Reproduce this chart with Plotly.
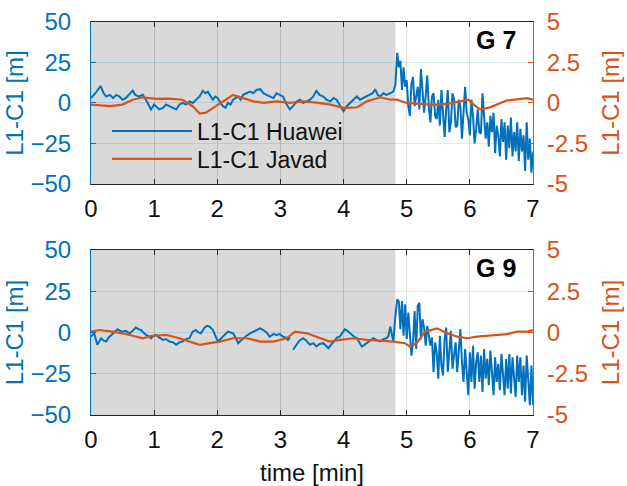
import plotly.graph_objects as go

BLUE = "#0072BD"
ORANGE = "#D95319"
DARK = "#262626"
FONT = "Liberation Sans, Arial, sans-serif"

# ---------------- data ----------------
# G 7 : Huawei (left axis, m)
t_hw_g7 = [0.00, 0.07, 0.15, 0.20, 0.24, 0.30, 0.35, 0.40, 0.45, 0.50, 0.55, 0.60, 0.66, 0.70, 0.76, 0.82, 0.87,
           0.95, 1.00, 1.03, 1.08, 1.14, 1.19, 1.24, 1.30, 1.35, 1.40, 1.45, 1.50, 1.56, 1.61, 1.66, 1.72, 1.77,
           1.81, 1.85, 1.90, 1.93, 1.97, 2.01, 2.05, 2.09, 2.13, 2.17, 2.21, 2.25, 2.29, 2.33, 2.37, 2.41, 2.46,
           2.52, 2.57, 2.62, 2.68, 2.73, 2.78, 2.83, 2.89, 2.94, 2.99, 3.04, 3.10, 3.15, 3.20, 3.26, 3.31, 3.36,
           3.41, 3.47, 3.52, 3.57, 3.62, 3.68, 3.73, 3.79, 3.84, 3.89, 3.95, 4.00, 4.05, 4.10, 4.16, 4.21, 4.26,
           4.31, 4.37, 4.42, 4.46, 4.50, 4.54, 4.58, 4.63, 4.68, 4.74, 4.79, 4.82,
           4.850, 4.875, 4.900, 4.925, 4.950, 4.975, 5.000, 5.025, 5.050, 5.075, 5.100, 5.125, 5.150, 5.175,
           5.200, 5.225, 5.250, 5.275, 5.300, 5.325, 5.350, 5.375, 5.400, 5.425, 5.450, 5.475, 5.500, 5.525,
           5.550, 5.575, 5.600, 5.625, 5.650, 5.675, 5.700, 5.725, 5.750, 5.775, 5.800, 5.825, 5.850, 5.875,
           5.900, 5.925, 5.950, 5.975, 6.000, 6.025, 6.050, 6.075, 6.100, 6.125, 6.150, 6.175, 6.200, 6.225,
           6.250, 6.275, 6.300, 6.325, 6.350, 6.375, 6.400, 6.425, 6.450, 6.475, 6.500, 6.525, 6.550, 6.575,
           6.600, 6.625, 6.650, 6.675, 6.700, 6.725, 6.750, 6.775, 6.800, 6.825, 6.850, 6.875, 6.900, 6.925,
           6.950, 6.975, 7.000]
hw_g7 = [3, 6, 10.5, 6, 4, 5, 3, 5, 4, 2, 3, 5, 7.6, 5, 4, 5, 2,
         -4, -1, -2, -4, -3, -1, -2, -3, -4, -1, 0, -1, 1, 0, 2, 4, 7.5,
         6, 7, 4, 2, 4, 3, 0, -2, -3, 0, -1, 2, 3, 4, 2, 5, 6,
         7, 6, 8, 8.5, 6, 5, 4, 3, 6, 5, 4, -1, -4, -2, 1, 2, 0,
         1, 2, 4, 7.5, 5, 4, 2, 1, 3, 2, -2, -5, -2, 0, 2, 4, 2,
         3, 4, 5, 6, 8.5, 5, 4, 6, 5, 6, 7, 11,
         31, 22, 26, 8, 22, 10, 14, -2, -8, 12, 16, -2, 4, 10,
         -4, 21, 8, -6, 4, 17, -2, -12, 4, 6, -8, -10, 2, -14,
         8, -6, -21, -4, 8, -18, -12, 6, 2, -15, -14, 2, -2, -22,
         -8, 10, -6, -10, -20, 2, -8, -25, -16, -4, -18, -19, 6, -10,
         -22, -12, -27, -8, -18, -6, -31, -14, -20, -33, -10, -24, -12, -35,
         -14, -28, -9, -33, -18, -30, -12, -36, -16, -30, -20, -42, -12, -35,
         -22, -43, -30]

# G 7 : Javad (right axis, m)
t_jv_g7 = [0.00, 0.15, 0.30, 0.50, 0.66, 0.82, 1.03, 1.24, 1.45, 1.61, 1.72, 1.82, 1.98, 2.09, 2.25, 2.41,
           2.57, 2.73, 2.94, 3.15, 3.36, 3.57, 3.79, 4.00, 4.21, 4.37, 4.58, 4.74, 4.84, 5.00, 5.21, 5.43,
           5.64, 5.85, 5.98, 6.06, 6.16, 6.32, 6.48, 6.58, 6.74, 6.90, 7.00]
jv_g7 = [-0.1, -0.15, -0.2, -0.1, 0.2, 0.35, 0.25, 0.27, 0.2, -0.2, -0.65, -0.6, -0.2, 0.1, 0.5, 0.3,
         0.1, 0.0, 0.1, 0.0, 0.1, 0.02, -0.1, -0.3, -0.27, 0.1, 0.35, 0.2, 0.2, 0.0, -0.06, -0.12,
         -0.06, 0.08, 0.2, -0.1, -0.4, -0.27, 0.0, 0.15, 0.22, 0.3, 0.2]

# G 9 : Huawei (left axis, m); None = data gap
t_hw_g9 = [0.00, 0.05, 0.10, 0.16, 0.20, 0.24, 0.28, 0.32, 0.37, 0.42, 0.46, 0.50, 0.55, 0.61, 0.66, 0.71,
           0.75, 0.79, 0.83, 0.87, 0.91, 0.95, 0.99, 1.03, 1.08, 1.14, 1.19, 1.24, 1.30, 1.35, 1.40, 1.45,
           1.50, 1.56, 1.61, 1.66, 1.70, 1.74, 1.80, 1.84, 1.88, 1.93, 1.97, 2.01, 2.05, 2.09, 2.13, 2.17,
           2.21, 2.25, 2.29, 2.33, 2.37, 2.41, 2.46, 2.52, 2.57, 2.62, 2.68, 2.73, 2.78, 2.83, 2.89, 2.94,
           2.99, 3.04, 3.08, 3.12, 3.15, 3.17, 3.20, 3.25, 3.30, 3.36, 3.41, 3.47, 3.52, 3.57, 3.62, 3.68,
           3.72, 3.76, 3.81, 3.86, 3.90, 3.94, 3.98, 4.02, 4.06, 4.10, 4.15, 4.21, 4.25, 4.29, 4.33, 4.37,
           4.42, 4.47, 4.52, 4.58, 4.63, 4.68, 4.71, 4.74, 4.77, 4.79, 4.82,
           4.850, 4.875, 4.900, 4.925, 4.950, 4.975, 5.000, 5.025, 5.050, 5.075, 5.100, 5.125, 5.150, 5.175,
           5.200, 5.225, 5.250, 5.275, 5.300, 5.325, 5.350, 5.375, 5.400, 5.425, 5.450, 5.475, 5.500, 5.525,
           5.550, 5.575, 5.600, 5.625, 5.650, 5.675, 5.700, 5.725, 5.750, 5.775, 5.800, 5.825, 5.850, 5.875,
           5.900, 5.925, 5.950, 5.975, 6.000, 6.025, 6.050, 6.075, 6.100, 6.125, 6.150, 6.175, 6.200, 6.225,
           6.250, 6.275, 6.300, 6.325, 6.350, 6.375, 6.400, 6.425, 6.450, 6.475, 6.500, 6.525, 6.550, 6.575,
           6.600, 6.625, 6.650, 6.675, 6.700, 6.725, 6.750, 6.775, 6.800, 6.825, 6.850, 6.875, 6.900, 6.925,
           6.950, 6.975, 7.000]
hw_g9 = [-2.5, -0.5, -7.5, -3.5, -5, -5.5, -3, -1.5, 0, 2, 1, 0.5, 1, -0.5, 1, 3,
         2, 1.5, 0, -1.5, -2, -3.5, -2, -1.5, -3, -4.5, -4, -5.5, -6, -7.5, -6, -5.5,
         -4, -3.5, 0.5, 1.5, 0, -0.5, 3, 4, 3.5, 1.5, -2, -5.5, -4, -2.5, -1, 0.5,
         0, -0.5, -3, -6.5, -5, -3.5, -2, -0.5, 0.5, 1.5, 2.5, 1.5, 0, -2.5, -1, -1.5,
         -1, -2.5, -3, -4.5, -3, None, -10.5, -7.5, -5, -3.5, -5, -7.5, -6.5, -8.5, -7, -6.5,
         -8, -9.5, -7, -4.5, -3, -2.5, 0, 2, 1, -0.5, -2, -3.5, -6, -8.5, -7.5, -6.5,
         -5, -3.5, -4.5, -5.5, -4, -3.5, -2, 3.5, -2, -5.5, 10,
         20, 19, 2, 19, -2, 17, -4, 12, 0, -14, -6, 13, -10, 16,
         18, -4, 8, 3, -8, 4, -2, -8, -3, -24, -6, -12, -28, -2,
         -20, -26, -4, 3, -24, -8, 1, -22, -12, -6, -24, -10, 2, -18,
         -30, -10, -22, -38, -12, -30, -8, -34, -18, -12, -30, -14, -36, -10,
         -28, -16, -32, -11, -24, -38, -15, -30, -19, -35, -13, -26, -38, -16,
         -34, -13, -37, -15, -30, -39, -14, -30, -15, -38, -20, -42, -14, -30,
         -44, -20, -44]

# G 9 : Javad (right axis, m)
t_jv_g9 = [0.00, 0.13, 0.34, 0.50, 0.66, 0.82, 0.97, 1.19, 1.40, 1.56, 1.72, 1.88, 2.04, 2.25, 2.47, 2.68,
           2.89, 3.10, 3.23, 3.42, 3.63, 3.78, 3.94, 4.15, 4.37, 4.58, 4.79, 4.97, 5.05, 5.16, 5.29, 5.48,
           5.64, 5.80, 5.96, 6.11, 6.27, 6.43, 6.59, 6.75, 6.91, 7.00]
jv_g9 = [0.05, 0.15, 0.05, -0.05, -0.2, -0.35, -0.2, -0.15, -0.35, -0.55, -0.75, -0.65, -0.55, -0.35, -0.35, -0.55,
         -0.55, -0.35, 0.05, -0.05, -0.35, -0.55, -0.45, -0.35, -0.45, -0.5, -0.55, -0.65, -0.85, -0.65, 0.05, 0.25,
         -0.05, -0.25, -0.35, -0.25, -0.2, -0.15, -0.1, 0.05, 0.05, 0.15]

shade_end = 4.82          # end of shaded interval [min]
x_ticks = [0, 1, 2, 3, 4, 5, 6, 7]
left_ticks = [-50, -25, 0, 25, 50]
right_ticks = [-5, -2.5, 0, 2.5, 5]
right_ticktext = ["-5", "-2.5", "0", "2.5", "5"]
panel_labels = ["G 7", "G 9"]
series_names = ["L1-C1 Huawei", "L1-C1 Javad"]

assert len(t_hw_g7) == len(hw_g7)
assert len(t_hw_g9) == len(hw_g9)
assert len(t_jv_g7) == len(jv_g7)
assert len(t_jv_g9) == len(jv_g9)

# ---------------- figure ----------------
fig = go.Figure()
fig.add_trace(go.Scatter(x=t_hw_g7, y=hw_g7, xaxis="x", yaxis="y", mode="lines",
                         line=dict(color=BLUE, width=2), name=series_names[0], connectgaps=False,
                         legend="legend"))
fig.add_trace(go.Scatter(x=t_jv_g7, y=jv_g7, xaxis="x", yaxis="y2", mode="lines",
                         line=dict(color=ORANGE, width=2.2), name=series_names[1], legend="legend2"))
fig.add_trace(go.Scatter(x=t_hw_g9, y=hw_g9, xaxis="x2", yaxis="y3", mode="lines",
                         line=dict(color=BLUE, width=2), showlegend=False, connectgaps=False))
fig.add_trace(go.Scatter(x=t_jv_g9, y=jv_g9, xaxis="x2", yaxis="y4", mode="lines",
                         line=dict(color=ORANGE, width=2.2), showlegend=False))

TS = 24
tickfont = dict(family=FONT, size=TS)

def xaxis(anchor, title=None):
    d = dict(anchor=anchor, domain=[0, 1], range=[0, 7], tickvals=x_ticks, automargin=False,
             ticks="inside", ticklen=5, tickcolor=DARK, showline=True, linecolor=DARK, linewidth=1,
             mirror="ticks", showgrid=True, gridcolor="rgba(0,0,0,0.13)", gridwidth=1, zeroline=False,
             tickfont=dict(tickfont, color="#111111"), ticklabelstandoff=3)
    if title:
        d["title"] = dict(text=title, font=dict(family=FONT, size=TS, color="#111111"), standoff=13)
    return d

def yleft(anchor, domain):
    return dict(anchor=anchor, domain=domain, range=[-50, 50], tickvals=left_ticks, automargin=False,
                ticks="inside", ticklen=5, tickcolor=BLUE, showline=True, linecolor=BLUE, linewidth=1,
                showgrid=True, gridcolor="rgba(0,114,189,0.14)", zeroline=False,
                tickfont=dict(tickfont, color=BLUE), ticklabelstandoff=14,
                title=dict(text="L1-C1 [m]", font=dict(family=FONT, size=TS, color=BLUE), standoff=0))

def yright(anchor, over):
    return dict(anchor=anchor, overlaying=over, side="right", range=[-5, 5], tickvals=right_ticks,
                ticktext=right_ticktext, ticks="inside", ticklen=5, tickcolor=ORANGE, showline=True,
                linecolor=ORANGE, linewidth=1, showgrid=False, zeroline=False, automargin=False,
                tickfont=dict(tickfont, color=ORANGE), ticklabelstandoff=8,
                title=dict(text="L1-C1 [m]", font=dict(family=FONT, size=TS, color=ORANGE), standoff=15))

legend_common = dict(x=0.036, xanchor="left", yanchor="middle", bgcolor="rgba(0,0,0,0)",
                     borderwidth=0, font=dict(family=FONT, size=23, color="#111111"), itemwidth=80)

fig.update_layout(
    width=627, height=486,
    margin=dict(l=91, r=94, t=22, b=71),
    paper_bgcolor="white", plot_bgcolor="white",
    font=dict(family=FONT, color=DARK),
    xaxis=xaxis("y"),
    yaxis=yleft("x", [0.588, 1.0]),
    yaxis2=yright("x", "y"),
    xaxis2=xaxis("y3", "time [min]"),
    yaxis3=yleft("x2", [0.0, 0.42]),
    yaxis4=yright("x2", "y3"),
    showlegend=True,
    legend=dict(legend_common, y=(415 - 131) / 393),
    legend2=dict(legend_common, y=(415 - 159) / 393),
)

for xr, yr in [("x", "y"), ("x2", "y3")]:
    fig.add_shape(type="rect", xref=xr, yref=f"{yr} domain", x0=0, x1=shade_end, y0=0, y1=1,
                  fillcolor="#d9d9d9", line=dict(width=0), layer="below")

for lab, xr, yr in [(panel_labels[0], "x", "y"), (panel_labels[1], "x2", "y3")]:
    fig.add_annotation(text=f"<b>{lab}</b>", xref=f"{xr} domain", yref=f"{yr} domain",
                       x=0.965, y=0.985, xanchor="right", yanchor="top", showarrow=False,
                       font=dict(family=FONT, size=25, color="black"))

fig.write_html("out.html")
